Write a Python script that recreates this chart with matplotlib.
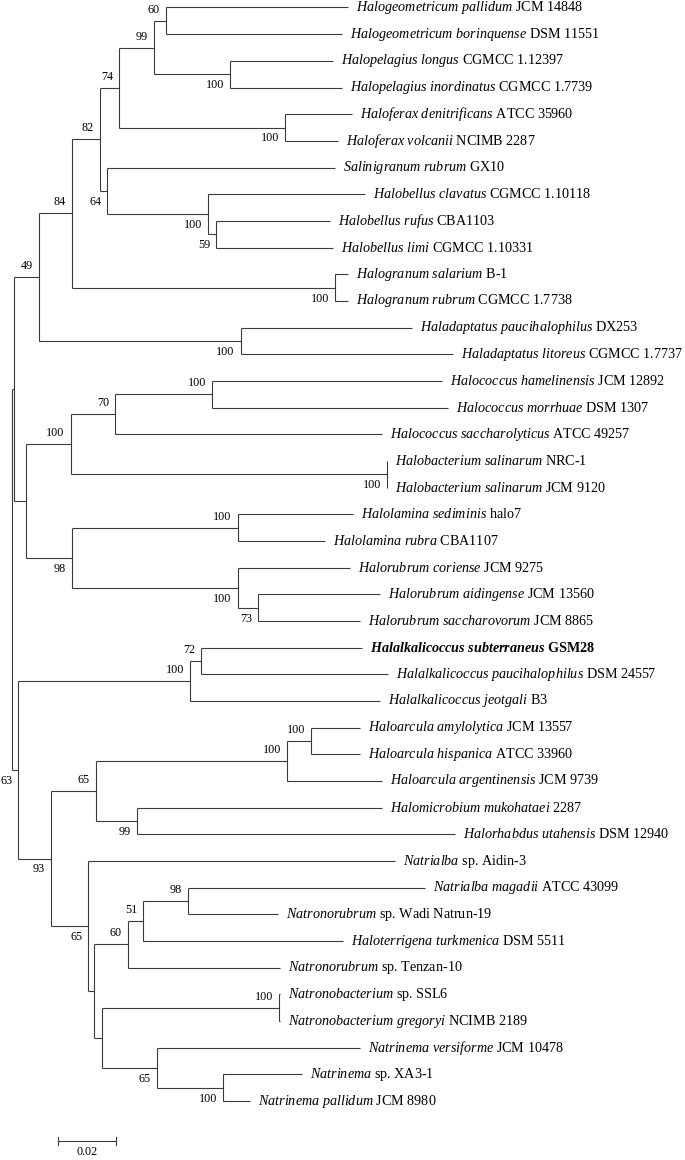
import matplotlib
matplotlib.use("Agg")
import matplotlib.pyplot as plt

plt.rcParams['font.family'] = ['Liberation Serif', 'DejaVu Serif']
plt.rcParams['mathtext.fontset'] = 'custom'
plt.rcParams['mathtext.rm'] = 'Liberation Serif'
plt.rcParams['mathtext.it'] = 'Liberation Serif:italic'
plt.rcParams['mathtext.bf'] = 'Liberation Serif:bold'
plt.rcParams['mathtext.bfit'] = 'Liberation Serif:italic:bold'

# ---------------- data ----------------
leaf_species = [
    "Halogeometricum pallidum", "Halogeometricum borinquense", "Halopelagius longus",
    "Halopelagius inordinatus", "Haloferax denitrificans", "Haloferax volcanii",
    "Salinigranum rubrum", "Halobellus clavatus", "Halobellus rufus", "Halobellus limi",
    "Halogranum salarium", "Halogranum rubrum", "Haladaptatus paucihalophilus",
    "Haladaptatus litoreus", "Halococcus hamelinensis", "Halococcus morrhuae",
    "Halococcus saccharolyticus", "Halobacterium salinarum", "Halobacterium salinarum",
    "Halolamina sediminis", "Halolamina rubra", "Halorubrum coriense",
    "Halorubrum aidingense", "Halorubrum saccharovorum", "Halalkalicoccus subterraneus",
    "Halalkalicoccus paucihalophilus", "Halalkalicoccus jeotgali", "Haloarcula amylolytica",
    "Haloarcula hispanica", "Haloarcula argentinensis", "Halomicrobium mukohataei",
    "Halorhabdus utahensis", "Natrialba", "Natrialba magadii", "Natronorubrum",
    "Haloterrigena turkmenica", "Natronorubrum", "Natronobacterium",
    "Natronobacterium gregoryi", "Natrinema versiforme", "Natrinema", "Natrinema pallidum",
]
leaf_strain = [
    "JCM 14848", "DSM 11551", "CGMCC 1.12397", "CGMCC 1.7739", "ATCC 35960",
    "NCIMB 2287", "GX10", "CGMCC 1.10118", "CBA1103", "CGMCC 1.10331", "B-1",
    "CGMCC 1.7738", "DX253", "CGMCC 1.7737", "JCM 12892", "DSM 1307", "ATCC 49257",
    "NRC-1", "JCM 9120", "halo7", "CBA1107", "JCM 9275", "JCM 13560", "JCM 8865",
    "GSM28", "DSM 24557", "B3", "JCM 13557", "ATCC 33960", "JCM 9739", "2287",
    "DSM 12940", "sp. Aidin-3", "ATCC 43099", "sp. Wadi Natrun-19", "DSM 5511",
    "sp. Tenzan-10", "sp. SSL6", "NCIMB 2189", "JCM 10478", "sp. XA3-1", "JCM 8980",
]
leaf_parent = [7, 7, 8, 8, 9, 9, 10, 11, 12, 12, 13, 13, 14, 14, 18, 18, 17, 19, 19,
               21, 21, 22, 23, 23, 26, 26, 25, 30, 30, 29, 31, 31, 32, 36, 36, 35, 34,
               38, 38, 39, 40, 40]
leaf_length = [0.06264, 0.06038, 0.03554, 0.03842, 0.02288, 0.01828, 0.07811, 0.05376,
               0.03911, 0.04024, 0.00456, 0.00456, 0.05866, 0.07293, 0.07870, 0.08096,
               0.09149, 0.0, 0.0, 0.03966, 0.02995, 0.03852, 0.04175, 0.03489, 0.05523,
               0.06436, 0.06508, 0.01681, 0.01681, 0.03238, 0.08405, 0.10919, 0.10521,
               0.08141, 0.03108, 0.06861, 0.05214, 0.00034, 0.00034, 0.06974, 0.02690,
               0.00916]
highlight_leaf = 24

node_parent = [-1, 0, 1, 2, 3, 4, 5, 6, 6, 5, 4, 10, 11, 3, 2, 1, 15, 16, 17, 16, 15,
               20, 20, 22, 0, 24, 25, 24, 27, 28, 29, 28, 27, 32, 33, 34, 35, 33, 37,
               37, 39]
node_length = [0.0, 0.00069, 0.00847, 0.01122, 0.00971, 0.00652, 0.01201, 0.00401,
               0.02597, 0.05695, 0.00250, 0.03465, 0.00264, 0.09033, 0.06919, 0.00391,
               0.01544, 0.01520, 0.03338, 0.10861, 0.01578, 0.05695, 0.05695, 0.00707,
               0.00206, 0.05901, 0.00357, 0.01111, 0.01544, 0.06573, 0.00813, 0.01407,
               0.01290, 0.00185, 0.01177, 0.00525, 0.01523, 0.00295, 0.06062, 0.01866,
               0.02285]
node_support = [None, None, 49, 84, 82, 74, 99, 60, 100, 100, 64, 100, 59, 100, 100,
                None, 100, 70, 100, 100, 98, 100, 100, 73, 63, 100, 72, 93, 65, 100,
                100, 99, 65, None, 60, 51, 98, None, 100, 65, 100]

scale_value = 0.02

# ---------------- layout ----------------
n_nodes = len(node_parent)
depth = [0.0] * n_nodes
for i in range(1, n_nodes):
    depth[i] = depth[node_parent[i]] + node_length[i]

children_y = [[] for _ in range(n_nodes)]
for i, p in enumerate(leaf_parent):
    children_y[p].append(float(i))
node_y = [0.0] * n_nodes
for i in range(n_nodes - 1, -1, -1):
    ys = children_y[i]
    node_y[i] = (min(ys) + max(ys)) / 2.0
    if node_parent[i] >= 0:
        children_y[node_parent[i]].append(node_y[i])

fig = plt.figure(figsize=(6.85, 11.6), dpi=100)
ax = fig.add_axes([0, 0, 1, 1])
ax.set_xlim(-0.00422, 0.23077)
ax.set_ylim(43.21, -0.281)
ax.axis('off')

lc = '#3a3a3a'
lw = 0.8

# vertical connectors
for i in range(n_nodes):
    ys = children_y[i]
    ax.plot([depth[i], depth[i]], [min(ys), max(ys)], color=lc, lw=lw,
            solid_capstyle='butt')
# internal horizontal branches
for i in range(1, n_nodes):
    p = node_parent[i]
    ax.plot([depth[p], depth[i]], [node_y[i], node_y[i]], color=lc, lw=lw,
            solid_capstyle='butt')
# leaves
for i, p in enumerate(leaf_parent):
    tip = depth[p] + leaf_length[i]
    ax.plot([depth[p], tip], [i, i], color=lc, lw=lw, solid_capstyle='butt')
    if i == highlight_leaf:
        sp = ' '.join(r'$\mathbfit{%s}$' % w for w in leaf_species[i].split())
        weight = 'bold'
    else:
        sp = ' '.join(r'$\mathit{%s}$' % w for w in leaf_species[i].split())
        weight = 'normal'
    ax.annotate(sp + ' ' + leaf_strain[i], xy=(tip, i), xytext=(5.8, 0),
                textcoords='offset points', ha='left', va='center',
                fontsize=10.2, fontweight=weight, color='black')

# bootstrap values
for i in range(1, n_nodes):
    s = node_support[i]
    if s is None:
        continue
    above = node_y[i] < node_y[node_parent[i]]
    dy = 7.9 if above else -7.9
    ax.annotate(str(s), xy=(depth[i], node_y[i]), xytext=(-4.3, dy),
                textcoords='offset points', ha='right', va='center',
                fontsize=8.7, color='black')

# scale bar
sb_x0 = 0.01557
sb_y = 42.5
ax.plot([sb_x0, sb_x0 + scale_value], [sb_y, sb_y], color=lc, lw=lw)
for xx in (sb_x0, sb_x0 + scale_value):
    ax.plot([xx, xx], [sb_y - 0.15, sb_y + 0.15], color=lc, lw=lw)
ax.text(sb_x0 + scale_value / 2, 42.91, f"{scale_value:.2f}", ha='center',
        va='center', fontsize=8.7)

fig.savefig('out.png', dpi=100, facecolor='white')
